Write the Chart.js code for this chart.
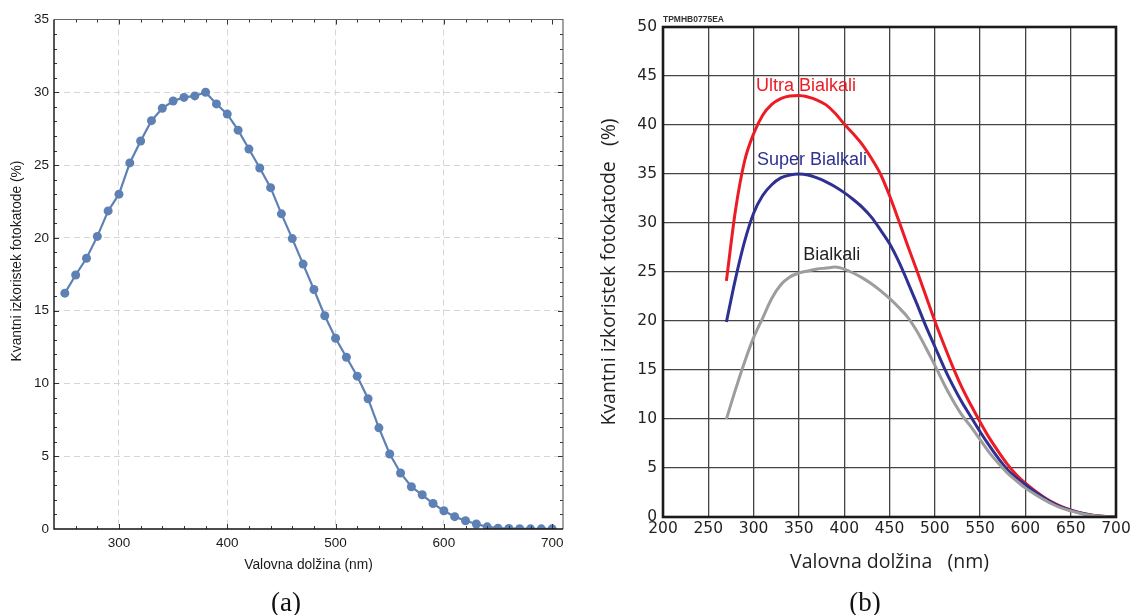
<!DOCTYPE html>
<html>
<head>
<meta charset="utf-8">
<script src="https://cdn.jsdelivr.net/npm/chart.js@4.4.1/dist/chart.umd.min.js"></script>
<style>
  html, body { margin: 0; padding: 0; background: #fff; width: 1133px; height: 615px; overflow: hidden; }
  body { position: relative; }
  canvas { position: absolute; top: 0; }
  #chartA { left: 0; }
  #chartB { left: 580px; }
  .caption { position: absolute; font-family: "Liberation Serif", "DejaVu Serif", serif; font-size: 27px;
             color: #111; line-height: 1; transform: translate(-50%, -50%); top: 602px; }
</style>
</head>
<body>
<canvas id="chartA" width="580" height="615"></canvas>
<canvas id="chartB" width="553" height="615"></canvas>
<div class="caption" style="left:286px">(a)</div>
<div class="caption" style="left:865px">(b)</div>
<script>
// ---- (a) measured quantum efficiency, 250–700 nm ----
const nmA = [250, 260, 270, 280, 290, 300, 310, 320, 330, 340, 350, 360, 370, 380, 390, 400,
             410, 420, 430, 440, 450, 460, 470, 480, 490, 500, 510, 520, 530, 540, 550, 560,
             570, 580, 590, 600, 610, 620, 630, 640, 650, 660, 670, 680, 690, 700];
const qeA = [16.2, 17.45, 18.6, 20.1, 21.85, 23.0, 25.15, 26.65, 28.05, 28.9, 29.4, 29.65, 29.75, 30.0, 29.2, 28.5,
             27.4, 26.1, 24.8, 23.45, 21.65, 19.95, 18.2, 16.45, 14.65, 13.1, 11.8, 10.5, 8.95, 6.95, 5.15, 3.85,
             2.9, 2.35, 1.75, 1.25, 0.85, 0.57, 0.34, 0.15, 0.06, 0.04, 0.02, 0.01, 0.01, 0.01];
const xTicksA = [300, 400, 500, 600, 700];
const yTicksA = [0, 5, 10, 15, 20, 25, 30, 35];

// ---- (b) photocathode types ----
const nmB = [270, 280, 290, 300, 310, 320, 330, 340, 350, 360, 370, 380, 390, 400, 410, 420,
             430, 440, 450, 460, 470, 480, 490, 500, 510, 520, 530, 540, 550, 560, 570, 580,
             590, 600, 610, 620, 630, 640, 650, 660, 670, 680, 690, 700];
const ultraB = [24.1, 31.3, 36.3, 39.1, 41.0, 42.1, 42.7, 42.95, 43.0, 42.85, 42.55, 42.05, 41.2, 40.1, 39.1, 38.0,
                36.6, 35.0, 32.8, 30.3, 27.7, 25.2, 22.6, 20.0, 17.6, 15.3, 13.2, 11.4, 9.7, 8.1, 6.7, 5.4,
                4.3, 3.45, 2.7, 2.05, 1.5, 1.05, 0.72, 0.45, 0.25, 0.12, 0.04, 0.0];
const superB = [19.9, 24.3, 28.1, 31.0, 32.8, 33.9, 34.6, 34.9, 35.0, 34.9, 34.6, 34.2, 33.7, 33.1, 32.4, 31.6,
                30.6, 29.3, 27.9, 26.1, 24.0, 21.8, 19.5, 17.4, 15.3, 13.4, 11.7, 10.2, 8.7, 7.3, 6.0, 4.85,
                4.0, 3.3, 2.6, 2.0, 1.45, 1.0, 0.7, 0.43, 0.23, 0.1, 0.04, 0.0];
const bialkaliB = [10.0, 13.0, 15.8, 18.3, 20.3, 22.3, 23.7, 24.5, 24.9, 25.1, 25.3, 25.4, 25.5, 25.3, 24.9, 24.4,
                   23.8, 23.1, 22.3, 21.4, 20.4, 19.0, 17.3, 15.5, 13.6, 11.9, 10.4, 9.2, 7.9, 6.6, 5.5, 4.5,
                   3.7, 2.95, 2.35, 1.8, 1.3, 0.9, 0.62, 0.38, 0.2, 0.09, 0.03, 0.0];
const xTicksB = [200, 250, 300, 350, 400, 450, 500, 550, 600, 650, 700];
const yTicksB = [0, 5, 10, 15, 20, 25, 30, 35, 40, 45, 50];
const seriesNamesB = ['Ultra Bialkali', 'Super Bialkali', 'Bialkali'];

const SANS = '"Liberation Sans", Arial, Helvetica, sans-serif';
const CLEAR = 'rgba(0,0,0,0)';

function fixWidth(w) {
  return s => { s.width = w; s.paddingLeft = s.paddingRight = s.paddingTop = s.paddingBottom = 0; };
}
function fixHeight(h) {
  return s => { s.height = h; s.paddingLeft = s.paddingRight = s.paddingTop = s.paddingBottom = 0; };
}
function useTicks(list) {
  return s => { s.ticks = list.map(v => ({ value: v })); };
}

// frame with inward major/minor ticks and axis titles for (a)
const frameA = {
  id: 'frameA',
  afterDatasetsDraw(chart) {
    const { ctx, chartArea: a, scales: { x, y } } = chart;
    ctx.save();
    ctx.strokeStyle = '#333';
    ctx.lineWidth = 1;
    ctx.beginPath();
    for (let v = 260; v <= 700; v += 20) {
      const px = Math.round(x.getPixelForValue(v)) + 0.5;
      const len = v % 100 === 0 ? 5 : 3;
      ctx.moveTo(px, a.bottom); ctx.lineTo(px, a.bottom - len);
      ctx.moveTo(px, a.top); ctx.lineTo(px, a.top + len);
    }
    for (let v = 1; v < 35; v++) {
      const py = Math.round(y.getPixelForValue(v)) + 0.5;
      const len = v % 5 === 0 ? 5 : 3;
      ctx.moveTo(a.left, py); ctx.lineTo(a.left + len, py);
      ctx.moveTo(a.right, py); ctx.lineTo(a.right - len, py);
    }
    ctx.stroke();

    ctx.strokeStyle = '#666';
    ctx.lineWidth = 1.2;
    ctx.beginPath();
    ctx.moveTo(a.left, a.top); ctx.lineTo(a.right, a.top); ctx.lineTo(a.right, a.bottom);
    ctx.stroke();
    ctx.strokeStyle = '#111';
    ctx.lineWidth = 1.4;
    ctx.beginPath();
    ctx.moveTo(a.left, a.top); ctx.lineTo(a.left, a.bottom); ctx.lineTo(a.right, a.bottom);
    ctx.stroke();

    ctx.fillStyle = '#1a1a1a';
    ctx.font = '13.8px ' + SANS;
    ctx.textAlign = 'center';
    ctx.textBaseline = 'middle';
    ctx.fillText('Valovna dolžina (nm)', (a.left + a.right) / 2, 565);
    ctx.translate(17, 261);
    ctx.rotate(-Math.PI / 2);
    ctx.fillText('Kvantni izkoristek fotokatode (%)', 0, 0);
    ctx.restore();
  }
};

new Chart(document.getElementById('chartA'), {
  type: 'line',
  data: {
    datasets: [{
      data: nmA.map((v, i) => ({ x: v, y: qeA[i] })),
      borderColor: '#5e81b5',
      backgroundColor: '#5e81b5',
      borderWidth: 2.2,
      pointRadius: 4.5,
      pointBorderWidth: 0,
      pointBackgroundColor: '#5e81b5',
      tension: 0,
      clip: 0
    }]
  },
  options: {
    responsive: false,
    devicePixelRatio: 1,
    animation: false,
    layout: { padding: { left: 0, top: 19.5, right: 17, bottom: 0 } },
    plugins: { legend: { display: false }, tooltip: { enabled: false } },
    scales: {
      x: {
        type: 'linear', min: 240, max: 710,
        afterBuildTicks: useTicks(xTicksA),
        afterFit: fixHeight(86),
        grid: { color: c => (c.tick && c.tick.value === 700 ? CLEAR : '#d6d6d6'), lineWidth: 1, drawTicks: false },
        border: { display: false, dash: [6, 4] },
        ticks: { padding: 6, autoSkip: false, maxRotation: 0, color: '#1a1a1a', font: { family: SANS, size: 13.5 } }
      },
      y: {
        type: 'linear', min: 0, max: 35,
        afterBuildTicks: useTicks(yTicksA),
        afterFit: fixWidth(54),
        grid: { color: c => (c.tick && (c.tick.value === 0 || c.tick.value === 35) ? CLEAR : '#d6d6d6'), lineWidth: 1, drawTicks: false },
        border: { display: false, dash: [6, 4] },
        ticks: { padding: 5, autoSkip: false, color: '#1a1a1a', font: { family: SANS, size: 13.5 } }
      }
    }
  },
  plugins: [frameA]
});

// heavy frame, curve names, stamp and axis titles for (b)
const curveLabelsB = [
  { text: seriesNamesB[0], x: 302.6, y: 44.0, color: '#ed1c24' },
  { text: seriesNamesB[1], x: 303.7, y: 36.4, color: '#2e3192' },
  { text: seriesNamesB[2], x: 354.8, y: 26.7, color: '#231f20' }
];
const frameB = {
  id: 'frameB',
  afterDatasetsDraw(chart) {
    const { ctx, chartArea: a, scales: { x, y } } = chart;
    ctx.save();
    ctx.strokeStyle = '#1a1a1a';
    ctx.lineWidth = 2.6;
    ctx.strokeRect(a.left, a.top, a.right - a.left, a.bottom - a.top);

    ctx.textAlign = 'left';
    ctx.textBaseline = 'middle';
    ctx.font = '18px ' + SANS;
    curveLabelsB.forEach(l => {
      ctx.fillStyle = l.color;
      ctx.fillText(l.text, x.getPixelForValue(l.x), y.getPixelForValue(l.y));
    });

    ctx.fillStyle = '#333';
    ctx.font = 'bold 8.5px ' + SANS;
    ctx.fillText('TPMHB0775EA', a.left, 20);

    ctx.fillStyle = '#231f20';
    ctx.font = '19.5px "Open Sans", "Noto Sans", sans-serif';
    ctx.textAlign = 'center';
    ctx.fillText('Valovna dolžina   (nm)', (a.left + a.right) / 2, 562);
    ctx.translate(29, (a.top + a.bottom) / 2);
    ctx.rotate(-Math.PI / 2);
    ctx.fillText('Kvantni izkoristek fotokatode   (%)', 0, 0);
    ctx.restore();
  }
};

const curve = (vals, color) => ({
  data: nmB.map((v, i) => ({ x: v, y: vals[i] })),
  borderColor: color,
  backgroundColor: color,
  borderWidth: 3,
  pointRadius: 0,
  fill: false,
  cubicInterpolationMode: 'monotone'
});

new Chart(document.getElementById('chartB'), {
  type: 'line',
  data: {
    datasets: [
      Object.assign(curve(bialkaliB, '#9d9d9d'), { label: seriesNamesB[2] }),
      Object.assign(curve(superB, '#2e3192'), { label: seriesNamesB[1] }),
      Object.assign(curve(ultraB, '#ed1c24'), { label: seriesNamesB[0] })
    ]
  },
  options: {
    responsive: false,
    devicePixelRatio: 1,
    animation: false,
    layout: { padding: { left: 0, top: 27, right: 17, bottom: 0 } },
    plugins: { legend: { display: false }, tooltip: { enabled: false } },
    scales: {
      x: {
        type: 'linear', min: 200, max: 700,
        afterBuildTicks: useTicks(xTicksB),
        afterFit: fixHeight(98),
        grid: { color: '#444', lineWidth: 1.3, drawTicks: false },
        border: { display: false },
        ticks: { padding: 3, autoSkip: false, maxRotation: 0, color: '#231f20', font: { family: '"DejaVu Sans", sans-serif', size: 15.5 } }
      },
      y: {
        type: 'linear', min: 0, max: 50,
        afterBuildTicks: useTicks(yTicksB),
        afterFit: fixWidth(83),
        grid: { color: '#444', lineWidth: 1.3, drawTicks: false },
        border: { display: false },
        ticks: { padding: 6, autoSkip: false, color: '#231f20', font: { family: '"DejaVu Sans", sans-serif', size: 15.5 } }
      }
    }
  },
  plugins: [frameB]
});
</script>
</body>
</html>
